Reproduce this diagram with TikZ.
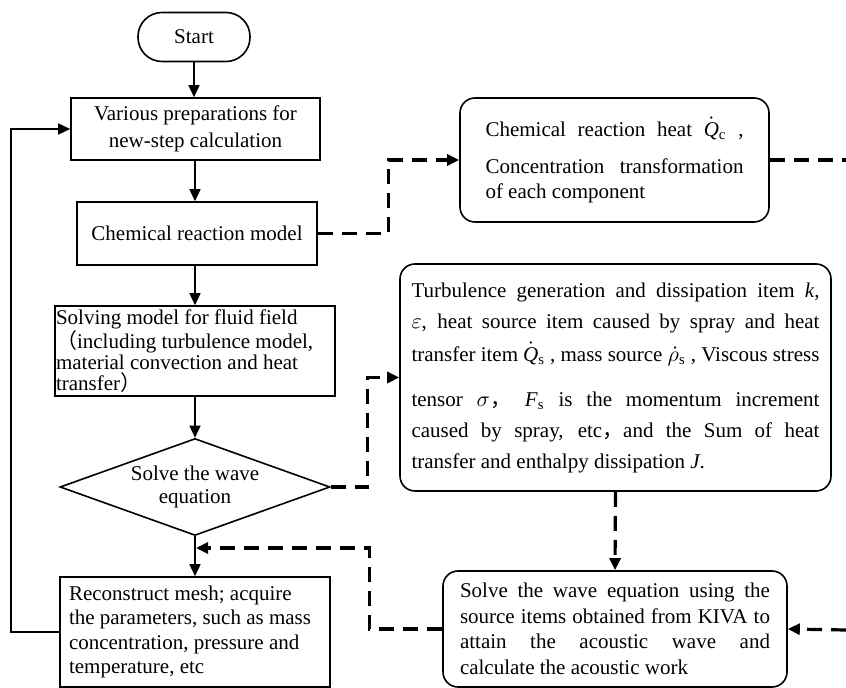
\documentclass[tikz,border=0pt]{standalone}
\usepackage{fontspec}
\setmainfont{Liberation Serif}
\newfontfamily\cjk{Noto Sans CJK SC}
\usetikzlibrary{shapes.geometric,arrows.meta}
\newcommand\justline[2]{\makebox[#1][s]{\spaceskip=0pt\xspaceskip=0pt #2}}
\tikzset{
  txt/.style={font=\fontsize{10.5}{#1}\selectfont, execute at begin node={\spaceskip=0pt\xspaceskip=0pt}},
  box/.style={draw, line width=0.8pt, inner sep=0pt},
  rbox/.style={box, rounded corners=7.5pt},
  arr/.style={line width=0.8pt, -{Triangle[length=6pt,width=5.5pt]}},
  darr/.style={line width=1.6pt, dash pattern=on 7.5pt off 4.5pt, -{Triangle[length=6pt,width=5.5pt]}},
  dline/.style={line width=1.6pt, dash pattern=on 7.5pt off 4.5pt},
}
\begin{document}
\begin{tikzpicture}[x=0.5pt,y=-0.5pt]
\useasboundingbox (0,0) rectangle (846,688);

% left column
\node[box, rounded corners=12pt, minimum width=56pt, minimum height=24.5pt, txt=12.5pt] (start) at (194,37) {Start};
\node[box, minimum width=124.5pt, minimum height=31pt, align=center, txt=13.5pt] (prep) at (195.5,129)
  {Various preparations for\\new-step calculation};
\node[box, minimum width=120pt, minimum height=31.5pt, txt=12.5pt] (chem) at (197,233.5) {Chemical reaction model};
\node[box, minimum width=140pt, minimum height=45pt, text width=139pt, inner xsep=0.5pt, align=left, txt=10.5pt] (solve) at (195,351)
  {Solving model for fluid field\\{\cjk （}including turbulence model,\\material convection and heat\\transfer{\cjk ）}};
\node[draw, line width=0.8pt, diamond, aspect=2.78, inner sep=0pt, minimum width=135pt, minimum height=48.5pt, align=center, txt=11.75pt] (dia) at (195,487)
  {Solve the wave\\equation};
\node[box, minimum width=135pt, minimum height=55pt, text width=126pt, inner xsep=4.5pt, align=left, txt=12.25pt] (recon) at (195,632)
  {Reconstruct mesh; acquire\\the parameters, such as mass\\concentration, pressure and\\temperature, etc};

% right column
\node[rbox, minimum width=154.5pt, minimum height=62pt, text width=129pt, align=left, txt=12.5pt] (qc) at (614.5,160)
  {\justline{129pt}{Chemical reaction heat $\dot{\mathit{Q}}_{\mathrm{c}}$ ,}\\[6pt]
   \justline{129pt}{Concentration transformation}\\
   of each component};
\node[rbox, minimum width=215.5pt, minimum height=113.5pt, text width=204pt, align=left, txt=15.5pt] (turb) at (615.5,377.5)
  {\justline{204pt}{Turbulence generation and dissipation item \textit{k},}\\
   \justline{204pt}{$\varepsilon$, heat source item caused by spray and heat}\\[1pt]
   \justline{204pt}{transfer item $\dot{\mathit{Q}}_{\mathrm{s}}$ , mass source $\dot{\rho}_{\mathrm{s}}$ , Viscous stress}\\[7pt]
   \justline{204pt}{tensor $\sigma${\cjk ，} \textit{F}\textsubscript{s} is the momentum increment}\\
   \justline{204pt}{caused by spray, etc{\cjk ，}and the Sum of heat}\\
   transfer and enthalpy dissipation \textit{J}.};
\node[rbox, minimum width=172pt, minimum height=58pt, text width=155pt, align=left, txt=12.75pt] (wave) at (615,629)
  {\justline{155pt}{Solve the wave equation using the}\\
   \justline{155pt}{source items obtained from KIVA to}\\
   \justline{155pt}{attain the acoustic wave and}\\
   calculate the acoustic work};

\coordinate (qcout) at (846,160);
\coordinate (wavein) at (846,630);
\coordinate (merge) at (196,548);

% solid connectors
\draw[arr] (start.south) -- (start.south |- prep.north);
\draw[arr] (prep.south -| 195,0) -- (195,0 |- chem.north);
\draw[arr] (195,0 |- chem.south) -- (solve.north);
\draw[arr] (solve.south) -- (dia.north);
\draw[arr] (dia.south) -- (recon.north);
\draw[arr] (recon.west) -- ++(-48,0) |- (prep.west);

% dashed connectors
\draw[darr] (chem.east) -- ++(71,0) |- (qc.west);
\draw[dline] (qc.east) -- (qcout);
\draw[darr] (dia.east) -- ++(37,0) |- (turb.west);
\draw[darr] (turb.south) -- (wave.north);
\draw[darr] (wavein) -- (wave.east);
\draw[darr] (wave.west) -- ++(-73,0) |- (merge);
\end{tikzpicture}
\end{document}
